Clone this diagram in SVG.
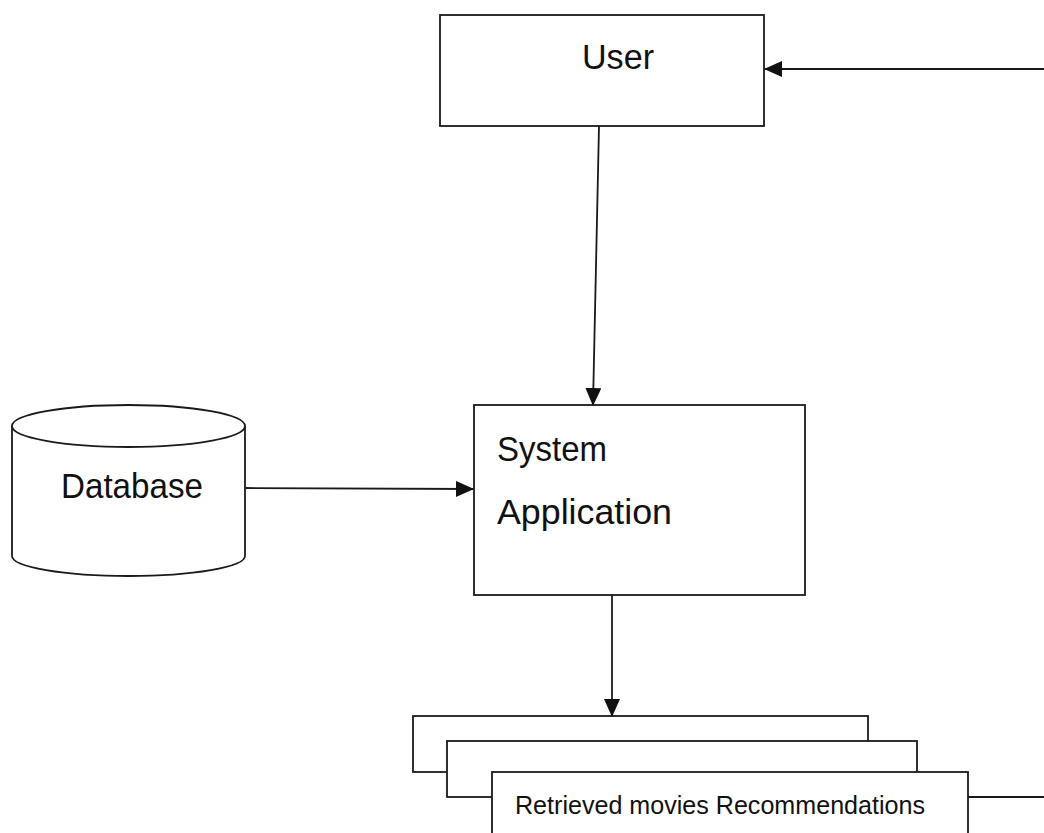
<svg xmlns="http://www.w3.org/2000/svg" width="1044" height="833" viewBox="0 0 1044 833">
<style>
.box{fill:#fff;stroke:#1a1a1a;stroke-width:1.8}
.ln{fill:none;stroke:#1a1a1a;stroke-width:1.8}
.t{font-family:"Liberation Sans",Arial,sans-serif;fill:#111}
</style>
<defs>
<marker id="ah" markerWidth="18" markerHeight="16" refX="17" refY="8" orient="auto" markerUnits="userSpaceOnUse">
<path d="M0,0 L18,8 L0,16 Z" fill="#111"/>
</marker>
</defs>
<rect width="1044" height="833" fill="#fff"/>
<g id="user">
<rect class="box" x="440" y="15" width="324" height="111"/>
<text class="t" x="618" y="69" font-size="35" text-anchor="middle" textLength="72" lengthAdjust="spacingAndGlyphs">User</text>
</g>
<g id="database">
<path class="box" d="M12,426 L12,556 A116.5,20 0 0 0 245,556 L245,426"/>
<ellipse class="box" cx="128.5" cy="426" rx="116.5" ry="21"/>
<text class="t" x="132" y="498" font-size="35" text-anchor="middle" textLength="142" lengthAdjust="spacingAndGlyphs">Database</text>
</g>
<g id="system">
<rect class="box" x="474" y="405" width="331" height="190"/>
<text class="t" x="497" y="461" font-size="35" textLength="110" lengthAdjust="spacingAndGlyphs">System</text>
<text class="t" x="497" y="524" font-size="35" textLength="175" lengthAdjust="spacingAndGlyphs">Application</text>
</g>
<g id="results">
<rect class="box" x="413" y="716" width="455" height="56"/>
<rect class="box" x="447" y="741" width="470" height="56"/>
<rect class="box" x="492" y="772" width="476" height="70"/>
<text class="t" x="515" y="814" font-size="25" textLength="410" lengthAdjust="spacingAndGlyphs">Retrieved movies Recommendations</text>
</g>
<g id="connectors">
<line class="ln" x1="1044" y1="69" x2="765" y2="69" marker-end="url(#ah)"/>
<line class="ln" x1="599" y1="126" x2="593" y2="405" marker-end="url(#ah)"/>
<line class="ln" x1="245" y1="488" x2="473" y2="489" marker-end="url(#ah)"/>
<line class="ln" x1="612" y1="595" x2="612" y2="716" marker-end="url(#ah)"/>
<line class="ln" x1="968" y1="797" x2="1044" y2="797"/>
</g>
</svg>
